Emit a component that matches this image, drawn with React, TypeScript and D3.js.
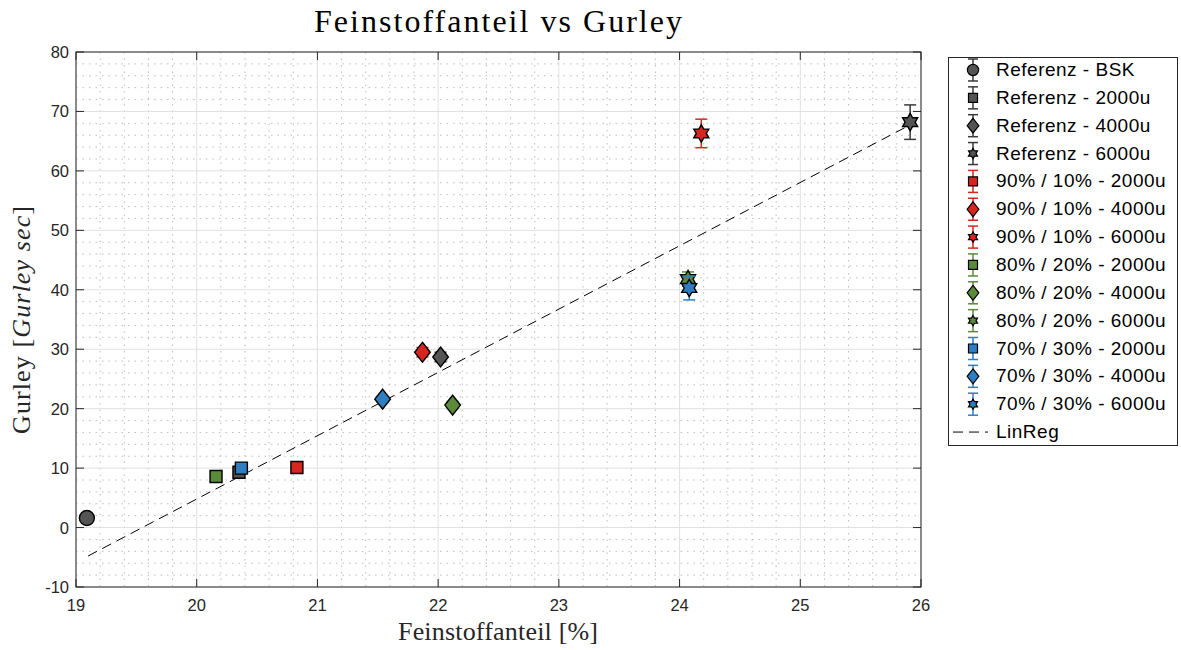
import React, { useEffect, useRef } from "react";
import * as d3 from "d3";

// series data
const seriesNames = [
  "Referenz - BSK",
  "Referenz - 2000u",
  "Referenz - 4000u",
  "Referenz - 6000u",
  "90% / 10% - 2000u",
  "90% / 10% - 4000u",
  "90% / 10% - 6000u",
  "80% / 20% - 2000u",
  "80% / 20% - 4000u",
  "80% / 20% - 6000u",
  "70% / 30% - 2000u",
  "70% / 30% - 4000u",
  "70% / 30% - 6000u",
];
const markerTypes = ["circle", "square", "diamond", "star", "square", "diamond", "star", "square", "diamond", "star", "square", "diamond", "star"];
const groupIndex = [0, 0, 0, 0, 1, 1, 1, 2, 2, 2, 3, 3, 3];
const feinValues = [19.09, 20.35, 22.02, 25.91, 20.83, 21.87, 24.18, 20.16, 22.12, 24.07, 20.37, 21.54, 24.08];
const gurleyValues = [1.6, 9.3, 28.7, 68.2, 10.1, 29.5, 66.3, 8.6, 20.6, 41.8, 10.0, 21.6, 40.3];
const gurleyErrors = [0.4, 0.6, 0.8, 2.9, 0.4, 0.8, 2.4, 0.4, 0.6, 1.2, 0.4, 0.5, 2.0];

const groupFill = ["#545454", "#d7261e", "#5b8a3a", "#2f7ec1"];
const groupErr = ["#3a3a3a", "#d7261e", "#5b8a3a", "#2f7ec1"];

// linear regression
const regSlope = 10.65;
const regIntercept = -208.2;
const regRange = [19.1, 25.91];

const xTicks = [19, 20, 21, 22, 23, 24, 25, 26];
const yTicks = [-10, 0, 10, 20, 30, 40, 50, 60, 70, 80];

const starPath = (r: number) => {
  const pts: string[] = [];
  for (let i = 0; i < 12; i++) {
    const a = (Math.PI / 6) * i - Math.PI / 2;
    const rr = i % 2 === 0 ? r : r / Math.sqrt(3);
    pts.push(`${(rr * Math.cos(a)).toFixed(2)},${(rr * Math.sin(a)).toFixed(2)}`);
  }
  return "M" + pts.join("L") + "Z";
};

const markerPath = (type: string, s: number) => {
  if (type === "circle") return d3.symbol(d3.symbolCircle, Math.PI * (s * 1.25) ** 2)();
  if (type === "square") return `M${-s},${-s}H${s}V${s}H${-s}Z`;
  if (type === "diamond") return `M0,${-s * 1.65}L${s * 1.3},0L0,${s * 1.65}L${-s * 1.3},0Z`;
  return starPath(s * 1.45);
};

const App = () => {
  const ref = useRef<SVGSVGElement>(null);

  useEffect(() => {
    document.body.style.margin = "0";
    const svg = d3.select(ref.current);
    svg.selectAll("*").remove();

    const left = 76, right = 921, top = 52, bottom = 587;
    const x = d3.scaleLinear().domain([19, 26]).range([left, right]);
    const y = d3.scaleLinear().domain([-10, 80]).range([bottom, top]);

    svg.append("rect").attr("width", 1181).attr("height", 650).attr("fill", "#fff");

    // minor grid
    const g = svg.append("g");
    const xMinor = d3.range(19, 26.001, 0.2).filter((v) => Math.abs(v - Math.round(v)) > 0.01);
    const yMinor = d3.range(-10, 80.001, 2).filter((v) => v % 10 !== 0);
    g.selectAll(".xm").data(xMinor).enter().append("line")
      .attr("x1", (d) => x(d)).attr("x2", (d) => x(d)).attr("y1", top).attr("y2", bottom)
      .attr("stroke", "#bdbdbd").attr("stroke-width", 1).attr("stroke-dasharray", "1.5,5");
    g.selectAll(".ym").data(yMinor).enter().append("line")
      .attr("y1", (d) => y(d)).attr("y2", (d) => y(d)).attr("x1", left).attr("x2", right)
      .attr("stroke", "#bdbdbd").attr("stroke-width", 1).attr("stroke-dasharray", "1.5,5");
    // major grid
    g.selectAll(".xg").data(xTicks).enter().append("line")
      .attr("x1", (d) => x(d)).attr("x2", (d) => x(d)).attr("y1", top).attr("y2", bottom)
      .attr("stroke", "#e0e0e0").attr("stroke-width", 1);
    g.selectAll(".yg").data(yTicks).enter().append("line")
      .attr("y1", (d) => y(d)).attr("y2", (d) => y(d)).attr("x1", left).attr("x2", right)
      .attr("stroke", "#e0e0e0").attr("stroke-width", 1);

    // axes box + inward ticks
    const ax = svg.append("g").attr("stroke", "#262626").attr("stroke-width", 1);
    ax.append("rect").attr("x", left).attr("y", top).attr("width", right - left).attr("height", bottom - top).attr("fill", "none");
    xTicks.forEach((t) => {
      ax.append("line").attr("x1", x(t)).attr("x2", x(t)).attr("y1", bottom).attr("y2", bottom - 8);
      ax.append("line").attr("x1", x(t)).attr("x2", x(t)).attr("y1", top).attr("y2", top + 8);
    });
    yTicks.forEach((t) => {
      ax.append("line").attr("y1", y(t)).attr("y2", y(t)).attr("x1", left).attr("x2", left + 8);
      ax.append("line").attr("y1", y(t)).attr("y2", y(t)).attr("x1", right).attr("x2", right - 8);
    });

    const tickFont = "'Liberation Sans', Arial, sans-serif";
    svg.selectAll(".xl").data(xTicks).enter().append("text")
      .attr("x", (d) => x(d)).attr("y", 611).attr("text-anchor", "middle")
      .attr("font-family", tickFont).attr("font-size", 16.5).attr("fill", "#262626").text((d) => d);
    svg.selectAll(".yl").data(yTicks).enter().append("text")
      .attr("x", 69).attr("y", (d) => y(d) + 6).attr("text-anchor", "end")
      .attr("font-family", tickFont).attr("font-size", 16.5).attr("fill", "#262626").text((d) => d);

    // regression line
    const line = d3.line<number>().x((d) => x(d)).y((d) => y(regSlope * d + regIntercept));
    svg.append("path").datum(regRange).attr("d", line).attr("fill", "none")
      .attr("stroke", "#000").attr("stroke-width", 1).attr("stroke-dasharray", "10,6");

    // points with error bars
    seriesNames.forEach((_, i) => {
      const cx = x(feinValues[i]);
      const c = groupErr[groupIndex[i]];
      const y0 = y(gurleyValues[i] - gurleyErrors[i]);
      const y1 = y(gurleyValues[i] + gurleyErrors[i]);
      const e = svg.append("g").attr("stroke", c).attr("stroke-width", 1.5);
      e.append("line").attr("x1", cx).attr("x2", cx).attr("y1", y0).attr("y2", y1);
      e.append("line").attr("x1", cx - 6).attr("x2", cx + 6).attr("y1", y0).attr("y2", y0);
      e.append("line").attr("x1", cx - 6).attr("x2", cx + 6).attr("y1", y1).attr("y2", y1);
      svg.append("path")
        .attr("d", markerPath(markerTypes[i], 6))
        .attr("transform", `translate(${cx},${y(gurleyValues[i])})`)
        .attr("fill", groupFill[groupIndex[i]]).attr("stroke", "#000").attr("stroke-width", 1.4);
    });

    // title and labels
    const serif = "'Liberation Serif', 'Times New Roman', serif";
    svg.append("text").attr("x", 498).attr("y", 32).attr("text-anchor", "middle")
      .attr("font-family", serif).attr("font-size", 32).attr("fill", "#000")
      .attr("textLength", 368).attr("lengthAdjust", "spacing").text("Feinstoffanteil vs Gurley");
    svg.append("text").attr("x", 498).attr("y", 640).attr("text-anchor", "middle")
      .attr("font-family", serif).attr("font-size", 26).attr("fill", "#262626")
      .attr("textLength", 200).attr("lengthAdjust", "spacing").text("Feinstoffanteil [%]");
    const yl = svg.append("text").attr("transform", "translate(30,320) rotate(-90)").attr("text-anchor", "middle")
      .attr("font-family", serif).attr("font-size", 26).attr("fill", "#262626")
      .attr("textLength", 228).attr("lengthAdjust", "spacing");
    yl.append("tspan").text("Gurley [");
    yl.append("tspan").attr("font-style", "italic").text("Gurley sec");
    yl.append("tspan").text("]");

    // legend
    const lg = svg.append("g");
    lg.append("rect").attr("x", 948.5).attr("y", 57.5).attr("width", 229).attr("height", 388)
      .attr("fill", "#fff").attr("stroke", "#262626").attr("stroke-width", 1);
    const rowY = (i: number) => 70 + i * 27.85;
    seriesNames.forEach((name, i) => {
      const ly = rowY(i);
      const c = groupErr[groupIndex[i]];
      const e = lg.append("g").attr("stroke", c).attr("stroke-width", 1.5);
      e.append("line").attr("x1", 973).attr("x2", 973).attr("y1", ly - 11).attr("y2", ly + 11);
      e.append("line").attr("x1", 968).attr("x2", 978).attr("y1", ly - 11).attr("y2", ly - 11);
      e.append("line").attr("x1", 968).attr("x2", 978).attr("y1", ly + 11).attr("y2", ly + 11);
      lg.append("path")
        .attr("d", markerPath(markerTypes[i], markerTypes[i] === "star" ? 3.6 : 4.5))
        .attr("transform", `translate(973,${ly})`)
        .attr("fill", groupFill[groupIndex[i]]).attr("stroke", "#000").attr("stroke-width", 1.2);
      lg.append("text").attr("x", 996).attr("y", ly + 6).attr("font-family", tickFont)
        .attr("font-size", 19).attr("letter-spacing", 0.5).attr("fill", "#000").text(name);
    });
    const ry = rowY(13);
    lg.append("line").attr("x1", 953).attr("x2", 988).attr("y1", ry).attr("y2", ry)
      .attr("stroke", "#000").attr("stroke-width", 1).attr("stroke-dasharray", "10,6");
    lg.append("text").attr("x", 996).attr("y", ry + 6).attr("font-family", tickFont)
      .attr("font-size", 19).attr("letter-spacing", 0.5).attr("fill", "#000").text("LinReg");
  }, []);

  return <svg ref={ref} width={1181} height={650} style={{ display: "block" }} />;
};

export default App;
